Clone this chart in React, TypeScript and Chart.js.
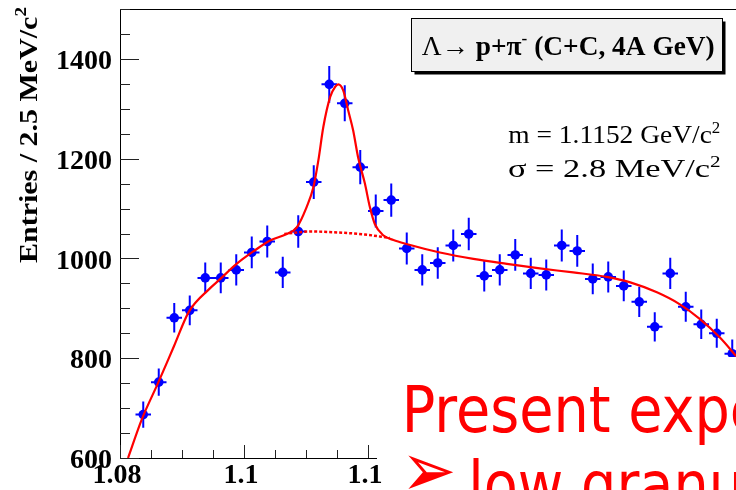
import React, { useEffect, useRef } from "react";
import { Chart, registerables } from "chart.js";

Chart.register(...registerables);

// ---- data ----
const MASS_BINS = [
  1.08375, 1.08625, 1.08875, 1.09125, 1.09375, 1.09625, 1.09875, 1.10125, 1.10375, 1.10625,
  1.10875, 1.11125, 1.11375, 1.11625, 1.11875, 1.12125, 1.12375, 1.12625, 1.12875, 1.13125,
  1.13375, 1.13625, 1.13875, 1.14125, 1.14375, 1.14625, 1.14875, 1.15125, 1.15375, 1.15625,
  1.15875, 1.16125, 1.16375, 1.16625, 1.16875, 1.17125, 1.17375, 1.17625, 1.17875,
];
const ENTRIES = [
  687, 752, 881, 896, 961, 961, 977, 1012, 1034, 972,
  1054, 1153, 1349, 1311, 1183, 1095, 1117, 1020, 977, 991,
  1026, 1049, 965, 977, 1007, 970, 967, 1026, 1015, 959,
  963, 945, 913, 863, 970, 903, 868, 850, 809,
];
const BIN_HALF_WIDTH = 0.00125;

const FIT_MASS = [
  1.0813, 1.0835, 1.0862, 1.0887, 1.0911, 1.0945, 1.0961, 1.0988, 1.1015, 1.1042,
  1.1069, 1.1085, 1.1101, 1.1112, 1.112, 1.1128, 1.1139, 1.1147, 1.1152, 1.116,
  1.1168, 1.1176, 1.1184, 1.1195, 1.1203, 1.1211, 1.1225, 1.1241, 1.1262, 1.1316,
  1.137, 1.1424, 1.1477, 1.1531, 1.1585, 1.1623, 1.1666, 1.1703, 1.1736, 1.1768, 1.1794,
];
const FIT_ENTRIES = [
  600, 677, 752, 824, 893, 940, 958, 989, 1014, 1036,
  1049, 1062, 1103, 1143, 1197, 1264, 1324, 1344, 1349, 1337,
  1297, 1257, 1203, 1150, 1103, 1069, 1046, 1037, 1029, 1012,
  999, 989, 980, 972, 963, 952, 932, 908, 878, 841, 804,
];
const BG_MASS = [1.1065, 1.1085, 1.1108, 1.1152, 1.1195, 1.1235];
const BG_ENTRIES = [1049, 1052, 1054, 1052, 1048, 1041];

const X_MIN = 1.08;
const X_MAX = 1.18;
const Y_MIN = 600;
const Y_MAX = 1500;
const X_TICK_VALUES = [1.08, 1.1, 1.12];
const X_TICK_LABELS = ["1.08", "1.1", "1.1"];
const Y_TICK_VALUES = [600, 800, 1000, 1200, 1400];
const X_MINOR_STEP = 0.005;
const Y_MINOR_STEP = 50;

const Y_TITLE = "Entries / 2.5 MeV/c";
const MASS_TEXT = "m = 1.1152 GeV/c";
const SIGMA_TEXT = "σ = 2.8 MeV/c";
const SLIDE_LINE_1 = "Present experiments:";
const SLIDE_LINE_2 = "low granularity";

const W = 760;
const H = 490;
const SERIF = "'Liberation Serif', 'Times New Roman', serif";

type Seg = { t: string; font: string; dy?: number };

function drawSegs(ctx: CanvasRenderingContext2D, segs: Seg[], x: number, y: number, target: number, color: string, rotate = false) {
  let total = 0;
  for (const s of segs) {
    ctx.font = s.font;
    total += ctx.measureText(s.t).width;
  }
  const k = target / total;
  ctx.save();
  ctx.translate(x, y);
  if (rotate) ctx.rotate(-Math.PI / 2);
  ctx.scale(k, 1);
  ctx.fillStyle = color;
  ctx.textBaseline = "alphabetic";
  ctx.textAlign = "left";
  let cx = 0;
  for (const s of segs) {
    ctx.font = s.font;
    ctx.fillText(s.t, cx, s.dy || 0);
    cx += ctx.measureText(s.t).width;
  }
  ctx.restore();
}

const rootPlugin = {
  id: "rootDecor",
  beforeDatasetsDraw(chart: any) {
    const { ctx, chartArea: a } = chart;
    const xs = chart.scales.x;
    const ys = chart.scales.y;
    ctx.save();
    ctx.beginPath();
    ctx.rect(a.left, a.top, a.right - a.left, a.bottom - a.top);
    ctx.clip();
    ctx.strokeStyle = "#0000ff";
    ctx.lineWidth = 2;
    MASS_BINS.forEach((m, i) => {
      const v = ENTRIES[i];
      const e = Math.sqrt(v);
      const px = xs.getPixelForValue(m);
      const py = ys.getPixelForValue(v);
      ctx.beginPath();
      ctx.moveTo(px, ys.getPixelForValue(v - e));
      ctx.lineTo(px, ys.getPixelForValue(v + e));
      ctx.moveTo(xs.getPixelForValue(m - BIN_HALF_WIDTH), py);
      ctx.lineTo(xs.getPixelForValue(m + BIN_HALF_WIDTH), py);
      ctx.stroke();
    });
    ctx.restore();
  },
  afterDraw(chart: any) {
    const { ctx, chartArea: a } = chart;
    const xs = chart.scales.x;
    const ys = chart.scales.y;
    ctx.save();
    // frame top line
    ctx.strokeStyle = "#000";
    ctx.lineWidth = 1;
    ctx.beginPath();
    ctx.moveTo(a.left, Math.round(a.top) + 0.5);
    ctx.lineTo(W, Math.round(a.top) + 0.5);
    ctx.stroke();
    // ticks inside frame
    ctx.strokeStyle = "#222";
    ctx.beginPath();
    for (let v = Y_MIN; v <= Y_MAX + 1e-9; v += Y_MINOR_STEP) {
      const py = Math.round(ys.getPixelForValue(v)) + 0.5;
      const major = Y_TICK_VALUES.includes(v);
      ctx.moveTo(a.left, py);
      ctx.lineTo(a.left + (major ? 19 : 10), py);
    }
    for (let i = 0; X_MIN + i * X_MINOR_STEP <= X_MAX + 1e-9; i++) {
      const v = X_MIN + i * X_MINOR_STEP;
      const px = Math.round(xs.getPixelForValue(v)) + 0.5;
      const major = i % 4 === 0;
      ctx.moveTo(px, a.bottom);
      ctx.lineTo(px, a.bottom - (major ? 13 : 8));
    }
    ctx.stroke();

    // y-axis title
    drawSegs(ctx, [
      { t: Y_TITLE, font: `bold 25px ${SERIF}` },
      { t: "2", font: `bold 16px ${SERIF}`, dy: -11 },
    ], 36.5, 263, 256, "#000", true);

    // title pave
    const bx = 411.5, by = 18.5, bw = 311, bh = 53;
    ctx.fillStyle = "#000";
    ctx.fillRect(bx + 3, by + 3, bw, bh);
    ctx.fillStyle = "#f0f0f0";
    ctx.fillRect(bx, by, bw, bh);
    ctx.strokeStyle = "#000";
    ctx.lineWidth = 1;
    ctx.strokeRect(bx, by, bw, bh);
    drawSegs(ctx, [
      { t: "Λ→ ", font: `27px ${SERIF}` },
      { t: "p+π", font: `bold 27px ${SERIF}` },
      { t: "-", font: `bold 17px ${SERIF}`, dy: -11 },
      { t: " (C+C, 4A GeV)", font: `bold 27px ${SERIF}` },
    ], 421.7, 55, 293, "#000");

    // fit parameters
    drawSegs(ctx, [
      { t: MASS_TEXT, font: `26px ${SERIF}` },
      { t: "2", font: `16px ${SERIF}`, dy: -10 },
    ], 508.3, 143.3, 212, "#000");
    drawSegs(ctx, [
      { t: SIGMA_TEXT, font: `26px ${SERIF}` },
      { t: "2", font: `16px ${SERIF}`, dy: -10 },
    ], 508, 176.7, 212.7, "#000");

    // slide text box overlapping the plot (covers the hidden part of the axis)
    ctx.fillStyle = "#fff";
    ctx.fillRect(377, 357, W - 377, 106);
    const slideFont = "64px 'DejaVu Sans', Tahoma, sans-serif";
    ctx.font = slideFont;
    const k = 226.6 / ctx.measureText("Present ").width;
    ctx.fillStyle = "#ff0000";
    ctx.textBaseline = "alphabetic";
    ctx.textAlign = "left";
    ctx.save();
    ctx.translate(401.7, 431.7);
    ctx.scale(k, 1);
    ctx.fillText(SLIDE_LINE_1, 0, 0);
    ctx.restore();
    ctx.save();
    ctx.translate(401, 496);
    ctx.scale(k, 1);
    ctx.font = "76px 'DejaVu Sans', Tahoma, sans-serif";
    ctx.fillText("➢", 0, 0);
    ctx.restore();
    ctx.save();
    ctx.translate(468.3, 506.7);
    ctx.scale(k, 1);
    ctx.font = slideFont;
    ctx.fillText(SLIDE_LINE_2, 0, 0);
    ctx.restore();
    ctx.restore();
  },
};

export default function App() {
  const ref = useRef<HTMLCanvasElement>(null);
  useEffect(() => {
    if (!ref.current) return;
    const chart = new Chart(ref.current, {
      type: "scatter",
      data: {
        datasets: [
          {
            type: "line",
            label: "fit",
            data: FIT_MASS.map((x, i) => ({ x, y: FIT_ENTRIES[i] })),
            borderColor: "#ff0000",
            borderWidth: 2.2,
            pointRadius: 0,
            cubicInterpolationMode: "monotone",
            fill: false,
          } as any,
          {
            type: "line",
            label: "background",
            data: BG_MASS.map((x, i) => ({ x, y: BG_ENTRIES[i] })),
            borderColor: "#ff0000",
            borderWidth: 2.5,
            borderDash: [3, 2],
            pointRadius: 0,
            cubicInterpolationMode: "monotone",
            fill: false,
          } as any,
          {
            type: "scatter",
            label: "data",
            data: MASS_BINS.map((x, i) => ({ x, y: ENTRIES[i] })),
            backgroundColor: "#0000ff",
            borderWidth: 0,
            pointRadius: 4.8,
          },
        ],
      },
      options: {
        animation: false,
        responsive: false,
        devicePixelRatio: 1,
        layout: { padding: { top: 9, right: W - 740, left: 0, bottom: 0 } },
        plugins: { legend: { display: false }, tooltip: { enabled: false }, title: { display: false } },
        scales: {
          x: {
            type: "linear",
            min: X_MIN,
            max: X_MAX,
            afterFit: (s: any) => { s.height = H - 458; s.paddingLeft = 0; s.paddingRight = 0; },
            afterBuildTicks: (s: any) => { s.ticks = X_TICK_VALUES.map((v) => ({ value: v })); },
            grid: { display: false, drawTicks: false },
            border: { display: true, color: "#000", width: 1 },
            ticks: {
              autoSkip: false,
              maxRotation: 0,
              padding: 1,
              labelOffset: -3,
              color: "#000",
              font: { family: SERIF, size: 28, weight: "bold" },
              callback: (v: any, i: number) => X_TICK_LABELS[i] ?? "",
            },
          },
          y: {
            type: "linear",
            min: Y_MIN,
            max: Y_MAX,
            afterFit: (s: any) => { s.width = 120; s.paddingTop = 0; s.paddingBottom = 0; },
            afterBuildTicks: (s: any) => { s.ticks = Y_TICK_VALUES.map((v) => ({ value: v })); },
            grid: { display: false, drawTicks: false },
            border: { display: true, color: "#000", width: 1 },
            ticks: {
              autoSkip: false,
              padding: 8,
              labelOffset: 3,
              color: "#000",
              font: { family: SERIF, size: 28, weight: "bold" },
              callback: (v: any) => String(v),
            },
          },
        },
      },
      plugins: [rootPlugin],
    } as any);
    return () => chart.destroy();
  }, []);
  return (
    <div style={{ position: "fixed", left: 0, top: 0, width: 736, height: 490, overflow: "hidden", background: "#fff" }}>
      <canvas ref={ref} width={W} height={H} style={{ display: "block", width: W, height: H }} />
    </div>
  );
}
